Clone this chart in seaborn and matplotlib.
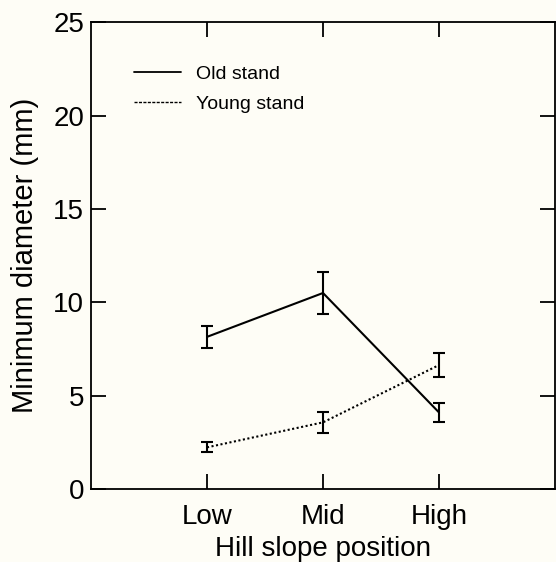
import numpy as np
import pandas as pd
import seaborn as sns
import matplotlib
matplotlib.use("Agg")
import matplotlib.pyplot as plt
from matplotlib.lines import Line2D

positions = ["Low", "Mid", "High"]
old_mean = [8.15, 10.5, 4.1]
old_err = [0.6, 1.12, 0.53]
young_mean = [2.23, 3.57, 6.64]
young_err = [0.27, 0.55, 0.63]
yticks = [0, 5, 10, 15, 20, 25]

df = pd.DataFrame({
    "position": positions * 2,
    "diameter": old_mean + young_mean,
    "stand": ["Old stand"] * 3 + ["Young stand"] * 3,
})

sns.set_theme(style="ticks")
plt.rcParams["font.family"] = ["Liberation Sans", "DejaVu Sans"]
plt.rcParams["text.color"] = "black"
plt.rcParams["axes.labelcolor"] = "black"
bg = "#fefdf6"

fig = plt.figure(figsize=(5.56, 5.62), dpi=100, facecolor=bg)
ax = fig.add_axes([0.1637, 0.1299, 0.8345, 0.8304])
ax.set_facecolor(bg)

sns.lineplot(data=df, x="position", y="diameter", style="stand",
             dashes={"Old stand": "", "Young stand": (1, 1.2)},
             color="black", linewidth=1.5, legend=False, ax=ax, sort=False)

xs = np.arange(len(positions))
ax.errorbar(xs, old_mean, yerr=old_err, fmt="none", ecolor="black",
            elinewidth=1.5, capsize=4.2, capthick=1.5)
ax.errorbar(xs, young_mean, yerr=young_err, fmt="none", ecolor="black",
            elinewidth=1.5, capsize=4.2, capthick=1.5)

ax.set_xlim(-1, 3)
ax.set_ylim(0, 25)
ax.set_yticks(yticks)
ax.set_xticks(xs)
ax.set_xticklabels(positions)
ax.set_xlabel("Hill slope position", fontsize=20, labelpad=4, color="black")
ax.set_ylabel("Minimum diameter (mm)", fontsize=21, labelpad=10, color="black")

ax.tick_params(axis="both", direction="in", length=11, width=1.3,
               labelsize=20, colors="black", top=True, right=True,
               labeltop=False, labelright=False, pad=5)
ax.tick_params(axis="x", pad=11)
for s in ax.spines.values():
    s.set_linewidth(1.3)
    s.set_color("black")

handles = [Line2D([], [], color="black", lw=1.3),
           Line2D([], [], color="black", lw=1.0, dashes=(2.2, 1.0))]
leg = ax.legend(handles, ["Old stand", "Young stand"], loc="upper left",
                bbox_to_anchor=(0.055, 0.945), frameon=False, fontsize=14,
                handlelength=2.4, handletextpad=0.8, labelspacing=0.62,
                labelcolor="black")

fig.savefig("out.png", dpi=100, facecolor=bg)
